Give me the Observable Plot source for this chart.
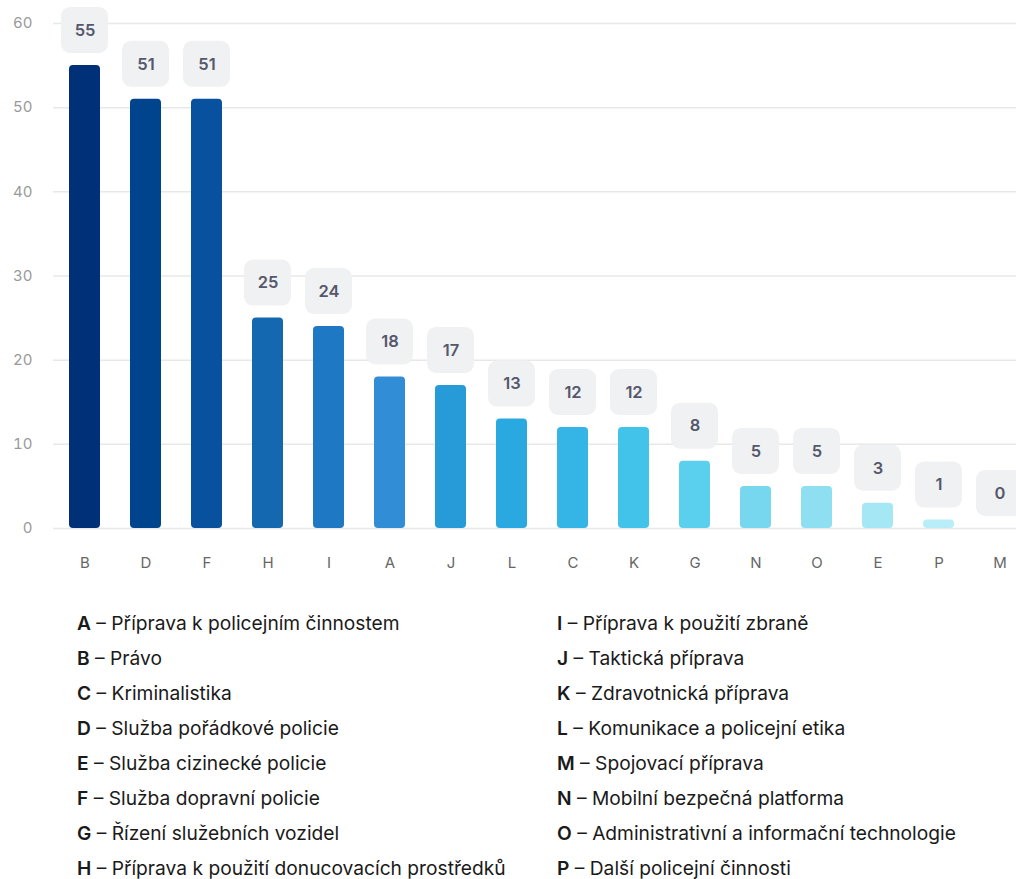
<!DOCTYPE html>
<html>
<head>
<meta charset="utf-8">
<script src="https://cdn.jsdelivr.net/npm/d3@7"></script>
<script src="https://cdn.jsdelivr.net/npm/@observablehq/plot@0.6"></script>
<style>
  html, body { margin: 0; padding: 0; background: #fff; overflow: hidden; width: 1016px; height: 879px; }
  body { font-family: Inter, "Noto Sans", sans-serif; position: relative; }
  #chart { position: absolute; left: 0; top: 0; width: 1047px; }
  #chart svg { max-width: none !important; }
  #legend { position: absolute; left: 77px; top: 606px; display: grid; grid-template-columns: 480px 460px; grid-auto-flow: column; grid-template-rows: repeat(8, 35px); font-size: 19.2px; color: #1a1a1a; }
  #legend div { line-height: 35px; white-space: nowrap; }
  #legend b { font-weight: 600; }
</style>
</head>
<body>
<div id="chart"></div>
<div id="legend"></div>
<script>
const codes = ["B","D","F","H","I","A","J","L","C","K","G","N","O","E","P","M"];
const values = [55,51,51,25,24,18,17,13,12,12,8,5,5,3,1,0];
const barColors = ["#003078","#00448e","#08519f","#1468b0","#1e78c4","#318dd5","#279ad8","#2aa8e0","#35b4e6","#42c3ea","#5bd0ee","#77d7ef","#8fdff2","#a6e7f6","#b9eef9","#c8f2fb"];
const legendCodes = ["A","B","C","D","E","F","G","H","I","J","K","L","M","N","O","P"];
const legendNames = [
  "Příprava k policejním činnostem",
  "Právo",
  "Kriminalistika",
  "Služba pořádkové policie",
  "Služba cizinecké policie",
  "Služba dopravní policie",
  "Řízení služebních vozidel",
  "Příprava k použití donucovacích prostředků",
  "Příprava k použití zbraně",
  "Taktická příprava",
  "Zdravotnická příprava",
  "Komunikace a policejní etika",
  "Spojovací příprava",
  "Mobilní bezpečná platforma",
  "Administrativní a informační technologie",
  "Další policejní činnosti"
];
const yTicks = [0,10,20,30,40,50,60];

const data = codes.map((c, i) => ({code: c, value: values[i], color: barColors[i]}));

const chart = Plot.plot({
  width: 1047,
  height: 580,
  marginLeft: 53,
  marginRight: 17,
  marginTop: 23,
  marginBottom: 52,
  style: {fontFamily: "Inter, 'Noto Sans', sans-serif", background: "#fff", maxWidth: "none"},
  x: {domain: codes, paddingInner: 0.5, paddingOuter: 0.258, label: null},
  y: {domain: [0, 60], ticks: yTicks, label: null},
  marks: [
    Plot.ruleY(yTicks, {stroke: "#e8e8e8", strokeWidth: 1.5}),
    Plot.barY(data, {x: "code", y: "value", fill: "color", rx: 4}),
    Plot.barY(data, {x: "code", y1: "value", y2: "value", fill: "#f0f1f2", rx: 9, insetTop: -58, insetBottom: 12, insetLeft: -8, insetRight: -8}),
    Plot.text(data, {x: "code", y: "value", text: d => String(d.value), dy: -35, fill: "#55586c", fontSize: 16.5, fontWeight: 600}),
    Plot.axisX({tickSize: 0, tickPadding: 29, fontSize: 15, fill: "#666", label: null}),
    Plot.axisY({ticks: yTicks, tickSize: 0, tickPadding: 21, fontSize: 15, fill: "#999", label: null})
  ]
});
document.getElementById("chart").appendChild(chart);

const leg = document.getElementById("legend");
legendCodes.forEach((c, i) => {
  const d = document.createElement("div");
  d.innerHTML = `<b>${c}</b> – ${legendNames[i]}`;
  leg.appendChild(d);
});
</script>
</body>
</html>
